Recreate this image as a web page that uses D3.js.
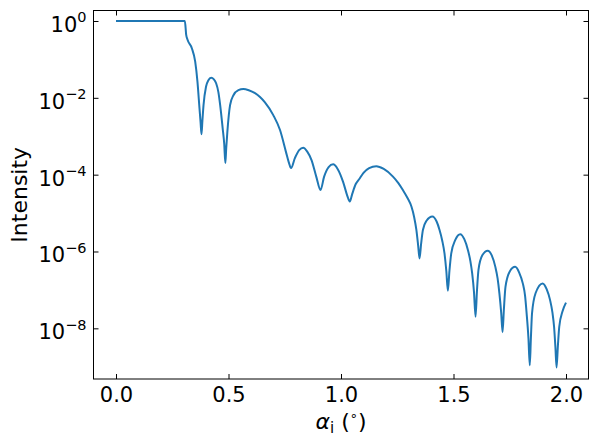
<!DOCTYPE html>
<html>
<head>
<meta charset="utf-8">
<script src="https://cdn.jsdelivr.net/npm/d3@7"></script>
<style>
    body { margin: 0; background: #fff; }
    svg { display: block; font-family: "DejaVu Sans", sans-serif; }
    .tick line { stroke: #000; stroke-width: 1; }
    .tick text { fill: #000; font-size: 21px; }
    .axis-label { font-size: 22px; fill: #000; }
</style>
</head>
<body>
<script>
// incidence angle (deg) and reflected intensity
var alpha = [0.000, 0.100, 0.200, 0.306, 0.312, 0.318, 0.337, 0.352, 0.362, 0.371,
    0.376, 0.380, 0.384, 0.389, 0.400, 0.410, 0.423, 0.435, 0.445, 0.455,
    0.463, 0.474, 0.481, 0.486, 0.490, 0.495, 0.507, 0.522, 0.544, 0.566,
    0.590, 0.618, 0.640, 0.662, 0.699, 0.729, 0.755, 0.768, 0.778, 0.795,
    0.814, 0.832, 0.850, 0.869, 0.890, 0.909, 0.925, 0.945, 0.965, 0.985,
    1.010, 1.028, 1.039, 1.050, 1.065, 1.083, 1.100, 1.125, 1.157, 1.190,
    1.231, 1.255, 1.275, 1.295, 1.313, 1.325, 1.335, 1.343, 1.349, 1.356,
    1.364, 1.380, 1.406, 1.425, 1.438, 1.450, 1.460, 1.468, 1.475, 1.482,
    1.490, 1.508, 1.530, 1.548, 1.564, 1.575, 1.583, 1.591, 1.598, 1.604,
    1.611, 1.628, 1.652, 1.670, 1.686, 1.696, 1.704, 1.712, 1.718, 1.724,
    1.731, 1.750, 1.774, 1.792, 1.808, 1.818, 1.825, 1.833, 1.839, 1.844,
    1.849, 1.865, 1.896, 1.914, 1.929, 1.940, 1.947, 1.953, 1.958, 1.964,
    1.970, 1.985, 2.000];
var intensity = [1, 1, 1, 1, 0.437, 0.324, 0.195, 0.0871, 0.0263, 5.37e-3,
    2.24e-3, 1.12e-3, 2.51e-3, 6.46e-3, 0.0195, 0.0282, 0.0331, 0.0302, 0.0240, 0.0141,
    6.46e-3, 1.62e-3, 6.31e-4, 2.00e-4, 5.01e-4, 1.32e-3, 6.46e-3, 0.0117, 0.0158, 0.0170,
    0.0158, 0.0132, 0.0105, 7.59e-3, 3.55e-3, 1.45e-3, 3.98e-4, 2.09e-4, 1.48e-4, 2.69e-4,
    4.37e-4, 5.01e-4, 3.98e-4, 2.40e-4, 8.91e-5, 3.98e-5, 8.91e-5, 1.58e-4, 1.86e-4, 1.41e-4,
    6.31e-5, 2.82e-5, 2.00e-5, 3.16e-5, 5.62e-5, 7.94e-5, 1.12e-4, 1.48e-4, 1.66e-4, 1.41e-4,
    8.91e-5, 6.03e-5, 3.98e-5, 2.51e-5, 1.48e-5, 7.94e-6, 3.63e-6, 1.41e-6, 6.61e-7, 1.58e-6,
    3.63e-6, 6.31e-6, 8.13e-6, 6.03e-6, 3.63e-6, 1.91e-6, 8.91e-7, 3.16e-7, 9.55e-8, 3.16e-7,
    8.91e-7, 2.00e-6, 2.82e-6, 2.09e-6, 1.10e-6, 5.62e-7, 2.69e-7, 8.91e-8, 2.00e-8, 8.91e-8,
    3.31e-7, 7.94e-7, 1.05e-6, 7.94e-7, 3.98e-7, 2.00e-7, 8.13e-8, 2.51e-8, 7.94e-9, 3.16e-8,
    1.20e-7, 3.02e-7, 3.98e-7, 2.82e-7, 1.48e-7, 7.08e-8, 2.45e-8, 5.62e-9, 1.10e-9, 5.62e-9,
    2.45e-8, 8.32e-8, 1.48e-7, 1.05e-7, 5.50e-8, 2.51e-8, 1.10e-8, 3.16e-9, 9.55e-10, 3.55e-9,
    1.10e-8, 2.82e-8, 4.68e-8];

var xTicks = [0, 0.5, 1, 1.5, 2];
var yTicks = [1, 1e-2, 1e-4, 1e-6, 1e-8];
var yTickExponents = ["0", "\u22122", "\u22124", "\u22126", "\u22128"];

var width = 598, height = 444;
var plotLeft = 93.5, plotRight = 588.5, plotTop = 10.5, plotBottom = 379;

var svg = d3.select("body").append("svg")
    .attr("width", width)
    .attr("height", height);

var x = d3.scaleLinear().domain([-0.1, 2.1]).range([plotLeft, plotRight]);
var y = d3.scaleLog().domain([4.8e-10, 1.875]).range([plotBottom, plotTop]);

var data = alpha.map((a, i) => ({ a: a, v: intensity[i] }));

// curve
var line = d3.line()
    .x(d => x(d.a))
    .y(d => y(d.v))
    .curve(d3.curveMonotoneX);

svg.append("path")
    .datum(data)
    .attr("fill", "none")
    .attr("stroke", "#1f77b4")
    .attr("stroke-width", 2)
    .attr("stroke-linejoin", "round")
    .attr("d", line);

// axes, ticks pointing inward on all four sides
svg.append("g")
    .attr("transform", "translate(0," + plotBottom + ")")
    .call(d3.axisBottom(x).tickValues(xTicks).tickSize(-5).tickSizeOuter(0).tickPadding(8)
        .tickFormat(d3.format(".1f")));
svg.append("g")
    .attr("transform", "translate(0," + plotTop + ")")
    .call(d3.axisTop(x).tickValues(xTicks).tickSize(-5).tickSizeOuter(0).tickFormat(""));

var leftAxis = svg.append("g")
    .attr("transform", "translate(" + plotLeft + ",0)")
    .call(d3.axisLeft(y).tickValues(yTicks).tickSize(-5).tickSizeOuter(0).tickPadding(7));
svg.append("g")
    .attr("transform", "translate(" + plotRight + ",0)")
    .call(d3.axisRight(y).tickValues(yTicks).tickSize(-5).tickSizeOuter(0).tickFormat(""));

svg.selectAll(".domain").remove();
svg.selectAll("g").attr("font-family", null).attr("font-size", null);

// log tick labels as 10 with superscript exponent
leftAxis.selectAll(".tick text").each(function (d, i) {
    var t = d3.select(this).text("").attr("dy", "0.5em");
    t.append("tspan").text("10");
    t.append("tspan")
        .attr("font-size", "14.5px")
        .attr("dy", -9.5)
        .text(yTickExponents[i]);
});

svg.append("rect")
    .attr("x", plotLeft).attr("y", plotTop)
    .attr("width", plotRight - plotLeft).attr("height", plotBottom - plotTop)
    .attr("fill", "none")
    .attr("stroke", "#000")
    .attr("stroke-width", 1);

// axis labels
var xl = svg.append("text")
    .attr("class", "axis-label")
    .attr("x", (plotLeft + plotRight) / 2)
    .attr("y", 429)
    .attr("text-anchor", "middle");
xl.append("tspan").attr("font-style", "italic").text("\u03b1");
xl.append("tspan").attr("font-size", "15px").attr("dy", 4).text("i");
xl.append("tspan").attr("dy", -4).text(" (");
xl.append("tspan").attr("font-size", "13px").attr("dy", -9).text("\u2218");
xl.append("tspan").attr("dy", 9).text(")");

svg.append("text")
    .attr("class", "axis-label")
    .attr("transform", "translate(27," + ((plotTop + plotBottom) / 2) + ") rotate(-90)")
    .attr("text-anchor", "middle")
    .text("Intensity");
</script>
</body>
</html>
